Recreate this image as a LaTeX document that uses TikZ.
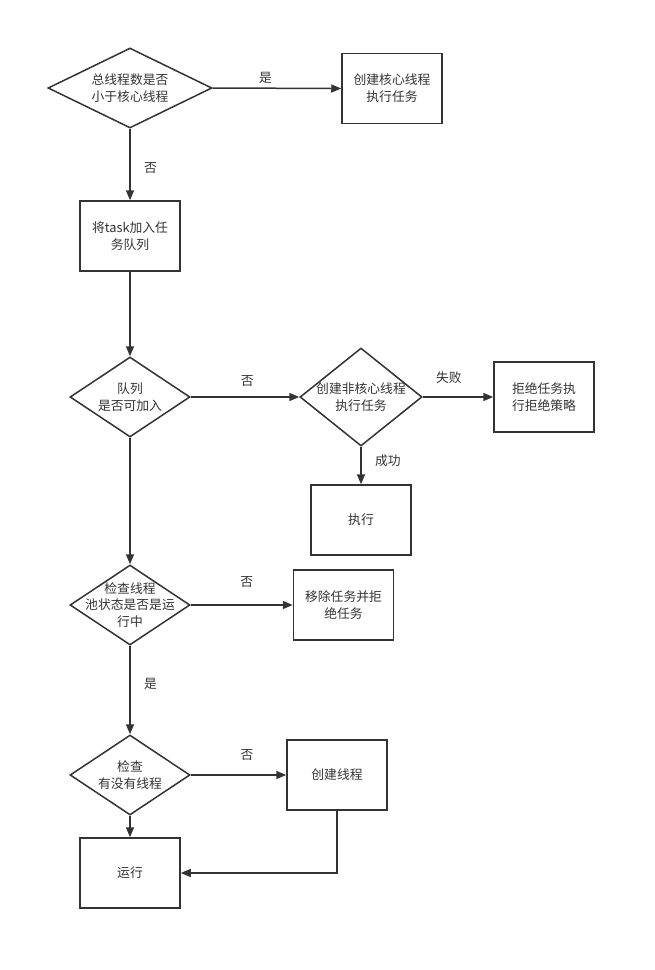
\documentclass[tikz,border=0pt]{standalone}
\usepackage{xcolor}
\usepackage{fontspec}
\newfontfamily\cjk{Noto Sans CJK SC}
\usepackage{tikz}
\usetikzlibrary{positioning, arrows.meta, shapes.geometric}
\definecolor{linegray}{HTML}{333333}

\begin{document}
\begin{tikzpicture}[
    x=1pt, y=-1pt,
    every node/.style={text=linegray, font=\cjk\fontsize{12.8}{16.8}\selectfont},
    pbox/.style={draw=linegray, line width=1.5pt, minimum width=100pt, minimum height=70pt, align=center},
    dnode/.style={draw=linegray, line width=1.5pt, diamond, inner sep=0pt, minimum width=120pt, minimum height=80pt},
    dtext/.style={align=center},
    flow/.style={draw=linegray, line width=1.5pt, -{Triangle[length=10pt, width=8pt]}}
]
\useasboundingbox (0,0) rectangle (655,970);

\node[dnode, minimum width=164pt] (core) at (130, 88) {};
\node[dtext] (coretxt) at (core) {总线程数是否\\小于核心线程};
\node[pbox] (newcore) at (392, 88.5) {创建核心线程\\执行任务};
\node[pbox] (enqueue) at (130, 236) {将task加入任\\务队列};
\node[dnode] (queue) at (130, 397) {};
\node[dtext] (queuetxt) at (queue) {队列\\是否可加入};
\node[dnode, minimum width=122pt, minimum height=98pt] (noncore) at (361, 397) {};
\node[dtext] (noncoretxt) at (noncore) {创建非核心线程\\执行任务};
\node[pbox] (reject) at (544, 397) {拒绝任务执\\行拒绝策略};
\node[pbox] (exec) at (361, 520) {执行};
\node[dnode] (state) at (130, 605) {};
\node[dtext] (statetxt) at (state) {检查线程\\池状态是否是运\\行中};
\node[pbox] (remove) at (343.5, 605) {移除任务并拒\\绝任务};
\node[dnode] (worker) at (130, 775) {};
\node[dtext] (workertxt) at (worker) {检查\\有没有线程};
\node[pbox] (newthread) at (337, 775) {创建线程};
\node[pbox] (run) at (130, 873) {运行};

\draw[flow] (core.east) -- node[pos=0.41, above=1pt] (yes1) {是} (newcore.west);
\draw[flow] (core.south) -- node[pos=0.55, right=10pt] (no1) {否} (enqueue.north);
\draw[flow] (enqueue.south) -- (queue.north);
\draw[flow] (queue.east) -- node[pos=0.52, above=6pt] (no2) {否} (noncore.west);
\draw[flow] (noncore.east) -- node[pos=0.37, above=9pt] (fail) {失败} (reject.west);
\draw[flow] (noncore.south) -- node[pos=0.38, right=10pt] (ok) {成功} (exec.north);
\draw[flow] (queue.south) -- (state.north);
\draw[flow] (state.east) -- node[pos=0.55, above=13pt] (no3) {否} (remove.west);
\draw[flow] (state.south) -- node[pos=0.43, right=10pt] (yes2) {是} (worker.north);
\draw[flow] (worker.east) -- node[pos=0.59, above=10pt] (no4) {否} (newthread.west);
\draw[flow] (worker.south) -- (run.north);
\draw[flow] (newthread.south) |- (run.east);
\end{tikzpicture}
\end{document}
